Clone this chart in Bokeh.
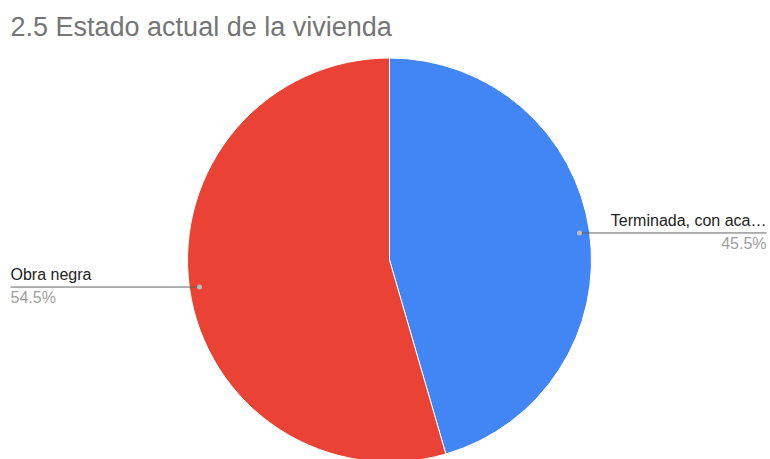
import math
from bokeh.plotting import figure
from bokeh.models import Range1d, ColumnDataSource
from bokeh.core.properties import value
from bokeh.embed import file_html
from bokeh.resources import INLINE

title = "2.5 Estado actual de la vivienda"
categories = ["Terminada, con aca\u2026", "Obra negra"]
shares = [45.5, 54.5]
colors = ["#4285F4", "#EA4335"]

W, H = 770, 459
cx, cy, r = 389, 459 - 259.5, 202
FONT = "Liberation Sans"

p = figure(width=W, height=H, output_backend="svg", toolbar_location=None,
           x_range=Range1d(0, W), y_range=Range1d(0, H), min_border=0)
p.axis.visible = False
p.grid.visible = False
p.outline_line_color = None
p.background_fill_color = "white"

total = sum(shares)
ang = math.pi / 2
ends, starts, mids = [], [], []
for s in shares:
    span = 2 * math.pi * s / total
    e = ang
    st = ang - span
    starts.append(st)
    ends.append(e)
    mids.append((st + e) / 2)
    ang = st

src = ColumnDataSource(dict(start=starts, end=ends, color=colors))
p.wedge(x=cx, y=cy, radius=r, start_angle="start", end_angle="end",
        fill_color="color", line_color="white", line_width=1, source=src)

for name, s, m in zip(categories, shares, mids):
    dx = cx + 0.95 * r * math.cos(m)
    dy = cy + 0.95 * r * math.sin(m)
    pct = f"{s / total * 100:.1f}%"
    if math.cos(m) >= 0:
        x_end, align = 766, "right"
    else:
        x_end, align = 10, "left"
    p.segment(x0=[dx], y0=[dy], x1=[x_end], y1=[dy], line_color="#666666", line_width=1)
    p.scatter(x=[dx], y=[dy], size=5, fill_color="#bdbdbd", line_color=None)
    p.text(x=[x_end], y=[dy + 4], text=[name], text_align=align, text_baseline="bottom",
           text_font=value(FONT), text_font_size="16px", text_color="#222222")
    p.text(x=[x_end], y=[dy - 2], text=[pct], text_align=align, text_baseline="top",
           text_font=value(FONT), text_font_size="16px", text_color="#9e9e9e")

p.text(x=[10], y=[H - 11], text=[title], text_align="left", text_baseline="top",
       text_font=value(FONT), text_font_size="27px", text_color="#757575")

open("out.html", "w").write(file_html(p, INLINE))
